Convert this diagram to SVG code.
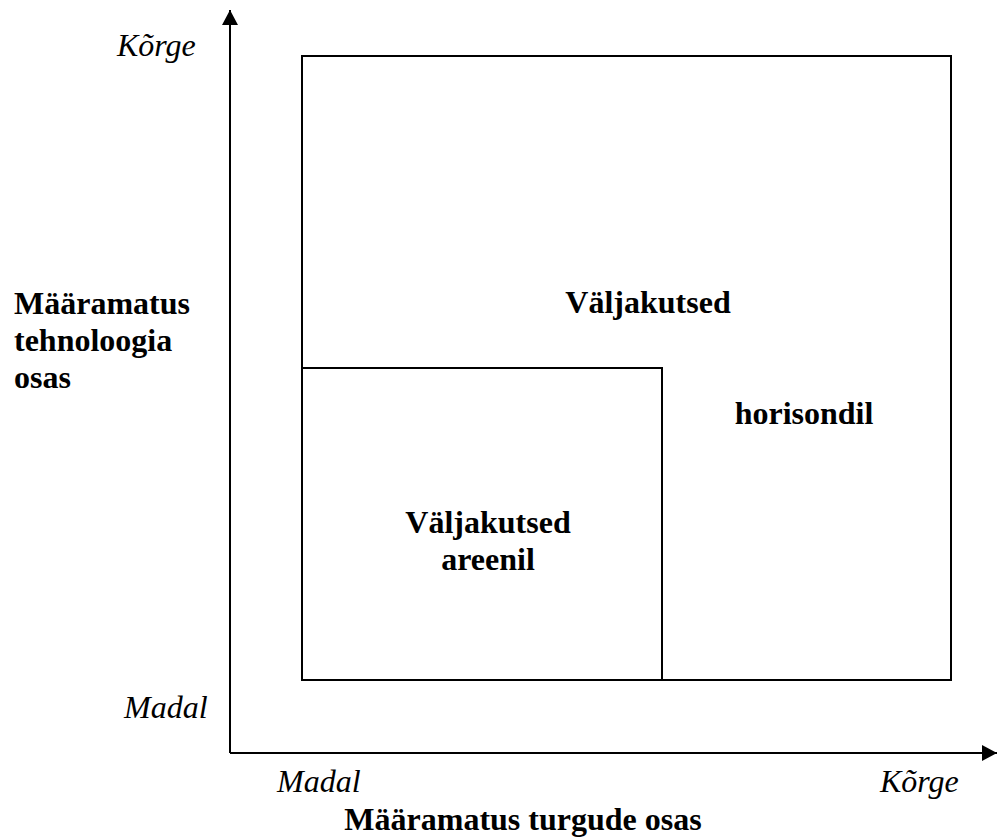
<svg xmlns="http://www.w3.org/2000/svg" width="999" height="840" viewBox="0 0 999 840">
  <style>
    .frame { fill: none; stroke: #000; stroke-width: 2; }
    .axis { fill: none; stroke: #000; stroke-width: 2; }
    .lbl { font-family: "Liberation Serif", "Times New Roman", serif; font-size: 32px; fill: #000; }
    .b { font-weight: bold; }
    .i { font-style: italic; }
  </style>
  <defs>
    <marker id="arrow" markerUnits="userSpaceOnUse" markerWidth="16" markerHeight="16" refX="15" refY="8" orient="auto">
      <path d="M0,0 L15,8 L0,16 Z" fill="#000"/>
    </marker>
  </defs>
  <rect width="999" height="840" fill="#fff"/>

  <!-- axes -->
  <g id="connectors">
    <path class="axis" d="M230,753 L230,10" marker-end="url(#arrow)"/>
    <path class="axis" d="M230,753 L997,753" marker-end="url(#arrow)"/>
  </g>

  <!-- outer quadrant: challenges on the horizon -->
  <g id="horizon">
    <rect class="frame" x="302" y="56" width="649" height="624"/>
    <text class="lbl b" x="648" y="313" text-anchor="middle">Väljakutsed</text>
    <text class="lbl b" x="804" y="424" text-anchor="middle">horisondil</text>
  </g>

  <!-- inner quadrant: challenges in the arena -->
  <g id="arena">
    <rect class="frame" x="302" y="368" width="360" height="312"/>
    <text class="lbl b" x="488" y="533" text-anchor="middle">Väljakutsed</text>
    <text class="lbl b" x="488" y="570" text-anchor="middle">areenil</text>
  </g>

  <!-- vertical axis labels -->
  <g id="y-axis-labels">
    <text class="lbl i" x="117" y="56">Kõrge</text>
    <text class="lbl i" x="124" y="718">Madal</text>
    <text class="lbl b" x="14" y="314">Määramatus</text>
    <text class="lbl b" x="14" y="351">tehnoloogia</text>
    <text class="lbl b" x="14" y="388">osas</text>
  </g>

  <!-- horizontal axis labels -->
  <g id="x-axis-labels">
    <text class="lbl i" x="277" y="792">Madal</text>
    <text class="lbl i" x="880" y="792">Kõrge</text>
    <text class="lbl b" x="523" y="830" text-anchor="middle">Määramatus turgude osas</text>
  </g>
</svg>
